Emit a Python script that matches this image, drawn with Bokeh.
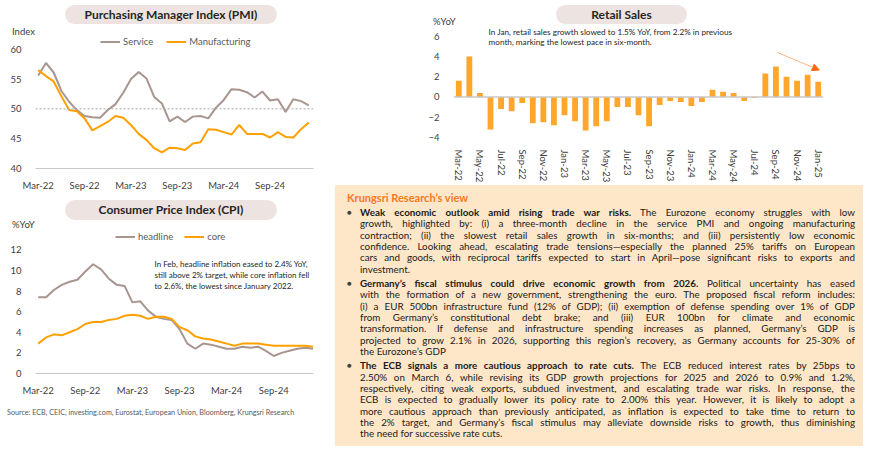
from bokeh.plotting import figure
from bokeh.models import (Range1d, FixedTicker, Span, Label, Legend, LegendItem,
                          Arrow, NormalHead, Div)
from bokeh.layouts import row, column
from bokeh.embed import file_html
from bokeh.resources import INLINE

# ---------------- data ----------------
months = ["Mar-22", "Apr-22", "May-22", "Jun-22", "Jul-22", "Aug-22", "Sep-22", "Oct-22",
          "Nov-22", "Dec-22", "Jan-23", "Feb-23", "Mar-23", "Apr-23", "May-23", "Jun-23",
          "Jul-23", "Aug-23", "Sep-23", "Oct-23", "Nov-23", "Dec-23", "Jan-24", "Feb-24",
          "Mar-24", "Apr-24", "May-24", "Jun-24", "Jul-24", "Aug-24", "Sep-24", "Oct-24",
          "Nov-24", "Dec-24", "Jan-25", "Feb-25"]

pmi_service = [55.6, 57.7, 56.1, 53.0, 51.2, 49.8, 48.8, 48.6, 48.5, 49.8,
               50.8, 52.7, 55.0, 56.2, 55.1, 52.0, 50.9, 47.9, 48.7, 47.8, 48.7, 48.8,
               48.4, 50.2, 51.5, 53.3, 53.2, 52.8, 51.9, 52.9, 51.4, 51.6, 49.5, 51.6,
               51.3, 50.6]
pmi_manufacturing = [56.5, 55.5, 54.6, 52.1, 49.8, 49.6, 48.4, 46.4, 47.1, 47.8,
                     48.8, 48.5, 47.3, 45.8, 44.8, 43.4, 42.7, 43.5, 43.4, 43.1, 44.2, 44.4,
                     46.6, 46.5, 46.1, 45.7, 47.3, 45.8, 45.8, 45.8, 45.2, 46.1, 45.3, 45.2,
                     46.6, 47.7]

cpi_headline = [7.4, 7.4, 8.1, 8.6, 8.9, 9.1, 9.9, 10.6, 10.1, 9.2,
                8.6, 8.5, 6.9, 7.0, 6.1, 5.5, 5.3, 5.2, 4.3, 2.9, 2.4, 2.9,
                2.8, 2.6, 2.4, 2.4, 2.6, 2.5, 2.6, 2.2, 1.7, 2.0, 2.2, 2.4,
                2.5, 2.4]
cpi_core = [2.9, 3.5, 3.8, 3.7, 4.0, 4.3, 4.8, 5.0, 5.0, 5.2,
            5.3, 5.6, 5.7, 5.6, 5.3, 5.5, 5.5, 5.3, 4.5, 4.2, 3.6, 3.4,
            3.3, 3.1, 2.9, 2.7, 2.9, 2.9, 2.9, 2.8, 2.7, 2.7, 2.7, 2.7,
            2.7, 2.6]

retail_months = months[:35]
retail_sales = [1.6, 4.0, 0.4, -3.2, -1.2, -1.4, -0.6, -2.6, -2.5, -2.8,
                -1.8, -2.4, -3.3, -2.9, -2.4, -1.0, -1.0, -1.8, -2.9, -0.8, -0.4, -0.5,
                -0.9, -0.5, 0.7, 0.5, 0.4, -0.4, -0.1, 2.3, 3.0, 2.0, 1.6, 2.2,
                1.5]
retail_arrow_start = (30.1, 4.4)
retail_arrow_end = (34.1, 2.65)

pmi_ticks = [0, 6, 12, 18, 24, 30]
pmi_yticks = [40, 45, 50, 55, 60]
cpi_yticks = [0, 2, 4, 6, 8, 10, 12]
retail_xticks = list(range(0, 35, 2))
retail_yticks = [-4, -2, 0, 2, 4, 6]

# ---------------- style ----------------
FONT = "Lato"
C_SERVICE = "#a8958f"
C_MANUF = "#ffa000"
C_BAR = "#ffa62b"
C_PILL = "#ede3e1"
C_TICK = "#404040"
C_AXIS = "#c8c8c8"
LEFT_W = 335
RIGHT_W = 535
PANEL_W = 528
PANEL_H = 261

xs = list(range(len(months)))


def base_fig(w, h, left, right, top, bottom, xr, yr):
    p = figure(width=w, height=h, output_backend="svg", toolbar_location=None,
               x_range=Range1d(*xr), y_range=Range1d(*yr),
               min_border_left=left, min_border_right=right,
               min_border_top=top, min_border_bottom=bottom, margin=0)
    p.outline_line_color = None
    p.xgrid.grid_line_color = None
    p.ygrid.grid_line_color = None
    p.background_fill_color = "white"
    p.border_fill_color = "white"
    for ax in (p.xaxis[0], p.yaxis[0]):
        ax.major_tick_line_color = None
        ax.minor_tick_line_color = None
        ax.major_label_text_font = FONT
        ax.major_label_text_font_size = "9.5px"
        ax.major_label_text_color = C_TICK
    p.yaxis.axis_line_color = None
    p.yaxis.major_label_standoff = 8
    p.xaxis.axis_line_color = C_AXIS
    p.xaxis.axis_line_width = 1.2
    p.xaxis.major_label_standoff = 5
    return p


def pill_html(left, top, width, height, text):
    return (f'<div style="position:absolute;left:{left}px;top:{top}px;width:{width}px;'
            f'height:{height}px;border-radius:{height / 2}px;background:{C_PILL};'
            f'color:#262626;font-weight:bold;font-size:12px;line-height:{height}px;'
            f'text-align:center;white-space:nowrap;">{text}</div>')


def text_html(left, cy, text, size="9.5px", color=C_TICK):
    return (f'<div style="position:absolute;left:{left}px;top:{cy - 7}px;height:14px;'
            f'line-height:14px;font-size:{size};color:{color};white-space:nowrap;">{text}</div>')


def header_div(w, h, inner):
    return Div(text=f'<div style="position:relative;width:{w}px;height:{h}px;'
                    f'font-family:Lato;">{inner}</div>', width=w, height=h, margin=0)


def note(p, x, y, text, size):
    p.add_layout(Label(x=x, y=y, x_units="screen", y_units="screen", text=text,
                       text_align="left", text_baseline="middle", text_font=FONT,
                       text_font_size=size, text_color="#262626"))


def legend(p, items, x, y, spacing):
    lg = Legend(items=items, orientation="horizontal", location=(x, y),
                padding=0, margin=0, spacing=spacing, glyph_width=20, glyph_height=13,
                label_height=13, label_standoff=3, border_line_color=None,
                background_fill_alpha=0, label_text_font=FONT,
                label_text_font_size="9.5px", label_text_color="#595959")
    p.add_layout(lg)


# ---------------- PMI ----------------
pmi_head = header_div(LEFT_W, 37,
                      pill_html(65, 5, 212, 19, "Purchasing Manager Index (PMI)")
                      + text_html(12, 32, "Index"))

pmi = base_fig(LEFT_W, 156, 35, 22, 0, 22, (-0.35, 35.61), (40, 61.97))
pmi.xaxis.ticker = FixedTicker(ticks=pmi_ticks)
pmi.xaxis.major_label_overrides = {i: months[i] for i in pmi_ticks}
pmi.yaxis.ticker = FixedTicker(ticks=pmi_yticks)
pmi.add_layout(Span(location=50, dimension="width", line_color="#a6a6a6",
                    line_dash="2 2", line_width=1))
r_s = pmi.line(xs, pmi_service, line_color=C_SERVICE, line_width=2)
r_m = pmi.line(xs, pmi_manufacturing, line_color=C_MANUF, line_width=2)
legend(pmi, [LegendItem(label="Service", renderers=[r_s]),
             LegendItem(label="Manufacturing", renderers=[r_m])], 65, 120, 13)

# ---------------- CPI ----------------
cpi_head = header_div(LEFT_W, 36,
                      pill_html(65, 7, 212, 20, "Consumer Price Index (CPI)")
                      + text_html(12, 32, "%YoY"))

cpi = base_fig(LEFT_W, 169, 35, 22, 0, 25, (-0.344, 35.06), (0, 13.97))
cpi.xaxis.ticker = FixedTicker(ticks=pmi_ticks)
cpi.xaxis.major_label_overrides = {i: months[i] for i in pmi_ticks}
cpi.yaxis.ticker = FixedTicker(ticks=cpi_yticks)
r_h = cpi.line(xs, cpi_headline, line_color=C_SERVICE, line_width=2)
r_c = cpi.line(xs, cpi_core, line_color=C_MANUF, line_width=2)
legend(cpi, [LegendItem(label="headline", renderers=[r_h]),
             LegendItem(label="core", renderers=[r_c])], 80, 130, 11)
cpi_note = ["In Feb, headline inflation eased to 2.4% YoY,",
            "still above 2% target, while core inflation fell",
            "to 2.6%, the lowest since January 2022."]
for k, t in enumerate(cpi_note):
    note(cpi, 119, 110 - 11 * k, t, "8px")

src = header_div(LEFT_W, 39,
                 text_html(7, 15, "Source: ECB, CEIC, investing.com, Eurostat, European Union, "
                           "Bloomberg, Krungsri Research", size="7.2px", color="#595959"))

# ---------------- Retail ----------------
ret_head = header_div(RIGHT_W, 28,
                      pill_html(221, 5, 131, 19, "Retail Sales")
                      + text_html(98, 22, "%YoY"))

ret = base_fig(RIGHT_W, 157, 118, 47, 0, 42, (-0.5, 34.5), (-4, 6.75))
ret.xaxis.axis_line_color = None
ret.xaxis.ticker = FixedTicker(ticks=retail_xticks)
ret.xaxis.major_label_overrides = {i: retail_months[i] for i in retail_xticks}
ret.xaxis.major_label_orientation = "vertical"
ret.xaxis.major_label_standoff = 6
ret.yaxis.ticker = FixedTicker(ticks=retail_yticks)
ret.vbar(x=list(range(len(retail_sales))), top=retail_sales, bottom=0, width=0.55,
         fill_color=C_BAR, line_color=None)
ret.add_layout(Span(location=0, dimension="width", line_color=C_AXIS, line_width=1.5))
ret.add_layout(Arrow(end=NormalHead(size=7, fill_color="#ff6a13", line_color="#ff6a13"),
                     x_start=retail_arrow_start[0], y_start=retail_arrow_start[1],
                     x_end=retail_arrow_end[0], y_end=retail_arrow_end[1],
                     line_color="#ffb585", line_width=1))
ret_note = ["In Jan, retail sales growth slowed to 1.5% YoY, from 2.2% in previous",
            "month, marking the lowest pace in six-month."]
for k, t in enumerate(ret_note):
    note(ret, 35, 106 - 10 * k, t, "8.2px")

# ---------------- Text panel ----------------
view_title = "Krungsri Research’s view"
bullets = [
    ["<b>Weak economic outlook amid rising trade war risks.</b> The Eurozone economy struggles with low",
     "growth, highlighted by: (i) a three-month decline in the service PMI and ongoing manufacturing",
     "contraction; (ii) the slowest retail sales growth in six-months; and (iii) persistently low economic",
     "confidence. Looking ahead, escalating trade tensions—especially the planned 25% tariffs on European",
     "cars and goods, with reciprocal tariffs expected to start in April—pose significant risks to exports and",
     "investment."],
    ["<b>Germany’s fiscal stimulus could drive economic growth from 2026.</b> Political uncertainty has eased",
     "with the formation of a new government, strengthening the euro. The proposed fiscal reform includes:",
     "(i) a EUR 500bn infrastructure fund (12% of GDP); (ii) exemption of defense spending over 1% of GDP",
     "from Germany’s constitutional debt brake; and (iii) EUR 100bn for climate and economic",
     "transformation. If defense and infrastructure spending increases as planned, Germany’s GDP is",
     "projected to grow 2.1% in 2026, supporting this region’s recovery, as Germany accounts for 25-30% of",
     "the Eurozone’s GDP"],
    ["<b>The ECB signals a more cautious approach to rate cuts.</b> The ECB reduced interest rates by 25bps to",
     "2.50% on March 6, while revising its GDP growth projections for 2025 and 2026 to 0.9% and 1.2%,",
     "respectively, citing weak exports, subdued investment, and escalating trade war risks. In response, the",
     "ECB is expected to gradually lower its policy rate to 2.00% this year. However, it is likely to adopt a",
     "more cautious approach than previously anticipated, as inflation is expected to take time to return to",
     "the 2% target, and Germany’s fiscal stimulus may alleviate downside risks to growth, thus diminishing",
     "the need for successive rate cuts."],
]

LH = 11.3
parts = [f'<div style="color:#f47b20;font-weight:bold;font-size:11px;line-height:13px;'
         f'height:13px;">{view_title}</div>']
for b in bullets:
    lines = []
    for k, ln in enumerate(b):
        last = k == len(b) - 1
        align = "text-align:left;" if last else "text-align:justify;text-align-last:justify;"
        lines.append(f'<div style="{align}white-space:nowrap;height:{LH}px;'
                     f'line-height:{LH}px;">{ln}</div>')
    parts.append('<div style="position:relative;padding-left:13px;margin-top:3.2px;">'
                 f'<span style="position:absolute;left:0;top:0;line-height:{LH}px;'
                 'font-size:8px;color:#404040;">●</span>' + "".join(lines) + '</div>')
html = (f'<div style="width:{PANEL_W}px;height:{PANEL_H}px;box-sizing:border-box;'
        f'background:#fee6c8;padding:6px 8px 0 12px;font-family:Lato;font-size:9.8px;'
        f'color:#1a1a1a;overflow:hidden;">' + "".join(parts) + '</div>')
panel = Div(text=html, width=PANEL_W, height=PANEL_H, margin=0)

layout = row(column(pmi_head, pmi, cpi_head, cpi, src, margin=0),
             column(ret_head, ret, panel, margin=0), margin=0)
open("out.html", "w").write(file_html(layout, INLINE, title="Eurozone"))
